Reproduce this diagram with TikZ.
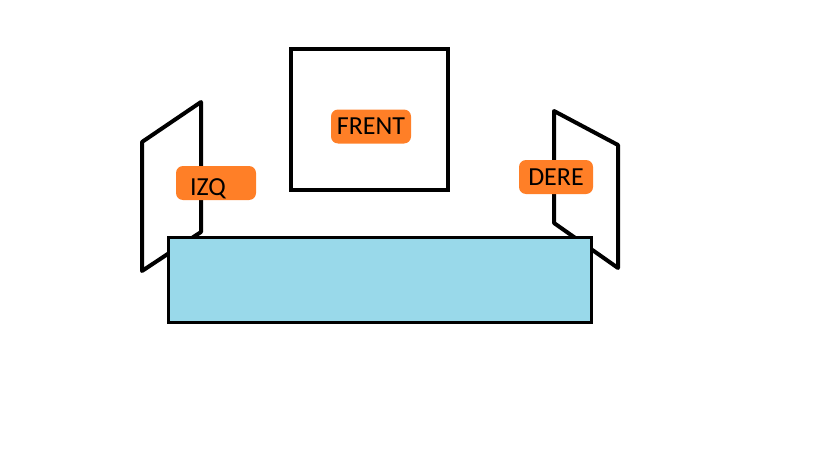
\documentclass[tikz,border=0pt]{standalone}
\usepackage{fontspec}
\setmainfont{Carlito}
\usetikzlibrary{positioning}
\definecolor{naranjaTag}{RGB}{255,127,39}
\definecolor{celesteMesa}{RGB}{153,217,234}

\begin{document}
\begin{tikzpicture}[x=1pt, y=-1pt,
    panel/.style={draw=black, line width=4pt, line join=round, fill=white},
    tag/.style={fill=naranjaTag, rounded corners=7pt, inner ysep=0pt, minimum height=34pt, font=\fontsize{26}{30}\selectfont},
    mesabox/.style={draw=black, fill=celesteMesa, line width=3pt, minimum width=423pt, minimum height=85pt, inner sep=0pt},
    frentebox/.style={draw=black, line width=4pt, minimum width=157pt, minimum height=141pt, inner sep=0pt}
]
    \useasboundingbox (0,0) rectangle (819,460);

    % paneles laterales
    \coordinate (izqA) at (142,142);
    \coordinate (izqB) at (201,102);
    \coordinate (izqC) at (201,232);
    \coordinate (izqD) at (142,271);
    \draw[panel] (izqA) -- (izqB) -- (izqC) -- (izqD) -- cycle;

    \coordinate (derA) at (554,111);
    \coordinate (derB) at (618,145);
    \coordinate (derC) at (618,268);
    \coordinate (derD) at (554,223);
    \draw[panel] (derA) -- (derB) -- (derC) -- (derD) -- cycle;

    % mesa y frente
    \node[mesabox] (mesa) at (379.5,279.5) {};
    \node[frentebox] (frente) at (369.5,119.5) {};

    % etiquetas
    \node[tag, minimum width=80pt] (tFrent) at (371,126.5) {FRENT};
    \node[tag, text width=52pt, align=left, inner xsep=14pt, text height=28pt, text depth=3.3pt] (tIzq) at (216,183) {IZQ};
    \node[tag, minimum width=74pt] (tDere) at (556,177) {DERE};
\end{tikzpicture}
\end{document}
